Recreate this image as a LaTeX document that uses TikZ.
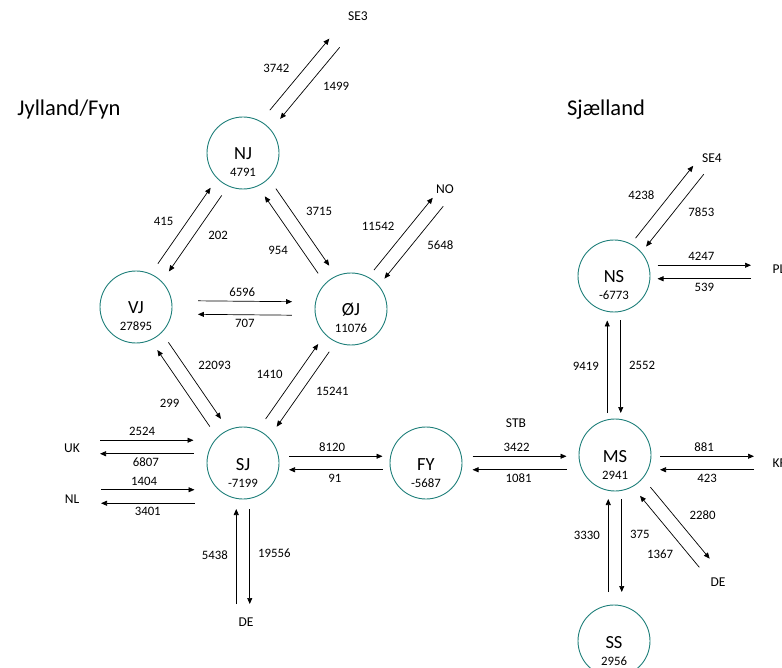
\documentclass[tikz,border=0pt]{standalone}
\usepackage{fontspec}
\setmainfont{Carlito}
\usepackage{tikz}
\usetikzlibrary{arrows.meta,calc}

\definecolor{areateal}{HTML}{1F7F7A}

\tikzset{
	area/.style={circle, draw=areateal, line width=0.9pt, minimum size=72pt, inner sep=0pt},
	aname/.style={anchor=base, font=\fontsize{18.5}{20}\selectfont},
	aval/.style={anchor=base, font=\fontsize{12.8}{14}\selectfont},
	flow/.style={-{Triangle[length=6pt,width=5pt]}, line width=0.7pt},
	flowlab/.style={auto, inner xsep=8pt, inner ysep=4pt, font=\fontsize{12.8}{14}\selectfont},
	ext/.style={font=\fontsize{13.5}{15}\selectfont},
	title/.style={font=\fontsize{22.5}{25}\selectfont}
}

% one arrow: from, to, gap at from, gap at to, label pos, label
\newcommand{\flow}[6]{%
	\draw[flow] ($(#1)!#3!(#2)!6.75pt!90:(#2)$) -- ($(#2)!#4!(#1)!6.75pt!-90:(#1)$)
		node[flowlab, pos=#5] {#6};
}
% two arrows, there and back
\newcommand{\flowpair}[8]{\flow{#1}{#2}{#3}{#4}{#5}{#6}\flow{#2}{#1}{#4}{#3}{#7}{#8}}

\begin{document}
\begin{tikzpicture}[x=1pt, y=-1pt]
		\useasboundingbox (0,0) rectangle (782,668);

		\node[title] (tJF) at (69,110) {Jylland/Fyn};
		\node[title] (tSJ) at (606,110) {Sjælland};

		\foreach \n/\t/\x/\y/\v in {NJ/NJ/243/153/4791, VJ/VJ/136/307/27895, OJ/ØJ/351/309/11076,
			SJ/SJ/243/463/-7199, FY/FY/426/463/-5687, NS/NS/614/276/-6773,
			MS/MS/615/455/2941, SS/SS/614/641/2956}{
			\node[area] (\n) at (\x,\y) {};
			\node[aname] (\n-name) at ([yshift=-7pt]\n.center) {\t};
			\node[aval] (\n-val) at ([yshift=-24pt]\n.center) {\v};
		}

		% outside ends
		\coordinate (se3) at (334.5,43);
		\coordinate (no) at (438,202);
		\coordinate (uk) at (100,447);
		\coordinate (nl) at (101,496.5);
		\coordinate (de) at (243,604);
		\coordinate (se4) at (698.5,170);
		\coordinate (pl) at (751,272);
		\coordinate (kf) at (754,463);
		\coordinate (deS) at (704.5,563);

		\node[ext] (SE3) at (358,16) {SE3};
		\node[ext] (NO) at (445,189) {NO};
		\node[ext] (UK) at (72,448) {UK};
		\node[ext] (NL) at (72,499) {NL};
		\node[ext] (DE) at (246,622) {DE};
		\node[ext] (STB) at (516,423) {STB};
		\node[ext] (SE4) at (712,158) {SE4};
		\node[ext, anchor=west] (PL) at (769,269) {PL};
		\node[ext, anchor=west] (KF) at (769,463) {KF};
		\node[ext] (DE2) at (718,582) {DE};

		% Jylland/Fyn
		\flowpair{NJ}{se3}{50pt}{0pt}{.47}{3742}{.42}{1499}
		\flowpair{VJ}{NJ}{48pt}{47pt}{.45}{415}{.41}{202}
		\flowpair{NJ}{OJ}{48pt}{48pt}{.41}{3715}{.41}{954}
		\flowpair{VJ}{OJ}{62pt}{59pt}{.47}{6596}{.5}{707}
		\flowpair{OJ}{no}{44.7pt}{0pt}{.49}{11542}{.41}{5648}
		\flowpair{VJ}{SJ}{47.5pt}{48.8pt}{.41}{22093}{.42}{299}
		\flowpair{SJ}{OJ}{49pt}{47.5pt}{.48}{1410}{.41}{15241}
		\flowpair{uk}{SJ |- uk}{0pt}{49.5pt}{.45}{2524}{.51}{6807}
		\flowpair{nl}{SJ |- nl}{0pt}{48.5pt}{.46}{1404}{.5}{3401}
		\flowpair{de}{SJ}{0pt}{46pt}{.51}{5438}{.47}{19556}
		\flowpair{SJ}{FY}{46pt}{43.5pt}{.46}{8120}{.51}{91}

		% Sjaelland
		\flowpair{FY}{FY -| MS}{46.5pt}{48.5pt}{.47}{3422}{.51}{1081}
		\flowpair{MS |- kf}{kf}{45pt}{0pt}{.47}{881}{.5}{423}
		\flowpair{NS |- pl}{pl}{43.5pt}{0pt}{.47}{4247}{.5}{539}
		\flowpair{NS}{se4}{43pt}{0pt}{.47}{4238}{.41}{7853}
		\flowpair{NS |- MS}{NS}{42pt}{44.5pt}{.5}{9419}{.48}{2552}
		\flowpair{MS}{deS}{47.4pt}{0pt}{.52}{2280}{.30}{1367}
		\flowpair{MS |- SS}{MS}{49pt}{44pt}{.61}{3330}{.38}{375}
	\end{tikzpicture}
\end{document}
